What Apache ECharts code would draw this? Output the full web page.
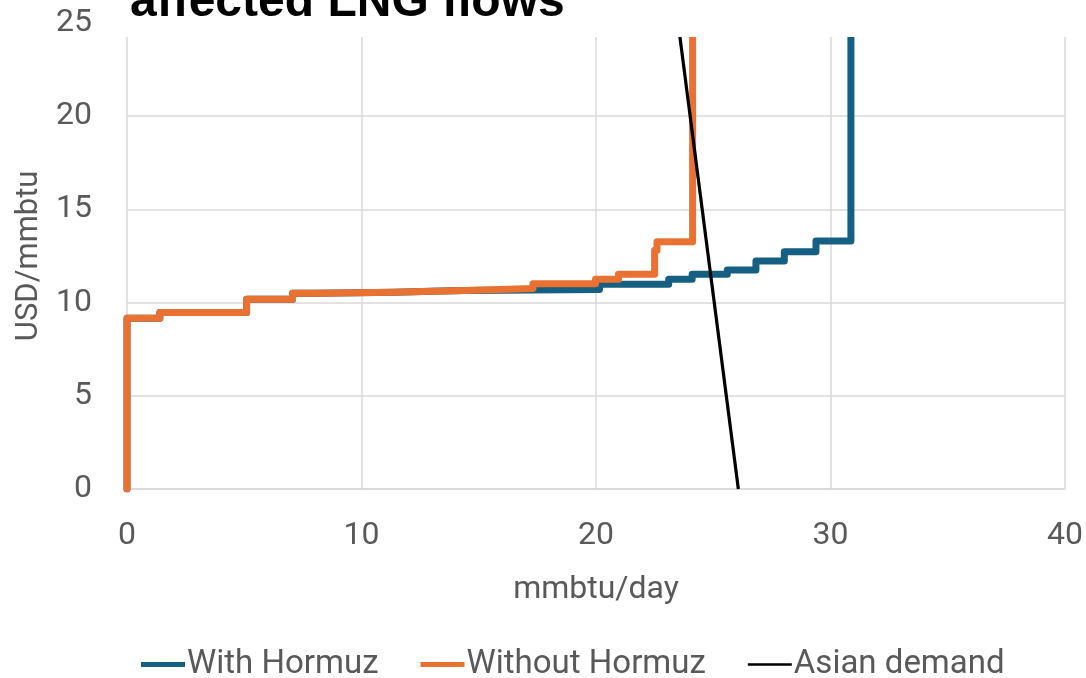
<!DOCTYPE html>
<html><head><meta charset="utf-8">
<script src="https://cdn.jsdelivr.net/npm/echarts@6/dist/echarts.min.js"></script>
<style>html,body{margin:0;padding:0;background:#fff}#c{width:1086px;height:678px}</style>
</head><body><div id="c"></div>
<script>
const titleText = 'affected LNG flows';
const seriesNames = ['With Hormuz', 'Without Hormuz', 'Asian demand'];
const xAxisName = 'mmbtu/day';
const yAxisName = 'USD/mmbtu';
const withX = [0, 0, 1.4, 5.1, 7.06, 8.08, 11.4, 12.98, 14.4, 20.15, 23.1, 24.1, 25.6, 26.82, 28.03, 29.38, 30.87];
const withY = [0, 9.15, 9.47, 10.18, 10.5, 10.55, 10.6, 10.65, 10.7, 10.98, 11.25, 11.51, 11.74, 12.22, 12.72, 13.3, 25];
const withoutX = [0, 0, 1.4, 5.1, 7.06, 8.08, 11.4, 12.98, 14.4, 17.31, 19.98, 20.96, 22.5, 22.6, 24.12];
const withoutY = [0, 9.15, 9.47, 10.18, 10.5, 10.55, 10.6, 10.65, 10.75, 11.0, 11.24, 11.51, 12.8, 13.26, 25];
const demandX = [26.07, 23.5];
const demandY = [0, 25];
const xTicks = [0, 10, 20, 30, 40];
const yTicks = [0, 5, 10, 15, 20, 25];

const pairs = (xs, ys) => xs.map((x, i) => [x, ys[i]]);
const FONT = 'Roboto';
const TXT = '#595959';
const GRID = '#D9D9D9';
const BLUE = '#156082', ORANGE = '#E97132', BLACK = '#000000';

const chart = echarts.init(document.getElementById('c'), null, {renderer: 'canvas'});
chart.setOption({
  animation: false,
  backgroundColor: '#ffffff',
  textStyle: {fontFamily: FONT},
  grid: {left: 127, right: 20, top: 22.75, bottom: 189, containLabel: false},
  xAxis: {
    type: 'value', min: xTicks[0], max: xTicks[xTicks.length - 1], interval: xTicks[1] - xTicks[0],
    name: xAxisName, nameLocation: 'middle', nameGap: 85,
    nameTextStyle: {color: TXT, fontSize: 32, fontFamily: FONT},
    axisLine: {show: true, lineStyle: {color: GRID, width: 1.5}},
    axisTick: {show: false},
    axisLabel: {color: TXT, fontSize: 32, margin: 31, fontFamily: FONT},
    splitLine: {show: true, lineStyle: {color: GRID, width: 1.5}}
  },
  yAxis: {
    type: 'value', min: yTicks[0], max: yTicks[yTicks.length - 1], interval: yTicks[1] - yTicks[0],
    name: yAxisName, nameLocation: 'middle', nameGap: 82,
    nameTextStyle: {color: TXT, fontSize: 31, fontFamily: FONT},
    axisLine: {show: false},
    axisTick: {show: false},
    axisLabel: {color: TXT, fontSize: 32, margin: 35, fontFamily: FONT},
    splitLine: {show: true, lineStyle: {color: GRID, width: 1.5}}
  },
  legend: {
    data: [
      {name: seriesNames[0], icon: 'path://M0,0 L44,0 L44,5 L0,5 Z', itemStyle: {color: BLUE}},
      {name: seriesNames[1], icon: 'path://M0,0 L44,0 L44,5 L0,5 Z', itemStyle: {color: ORANGE}},
      {name: seriesNames[2], icon: 'path://M0,0 L44,0 L44,2.6 L0,2.6 Z', itemStyle: {color: BLACK}}
    ],
    left: 136, top: 643, itemGap: 42, itemWidth: 44, itemHeight: 5, symbolKeepAspect: true,
    textStyle: {color: TXT, fontSize: 33, fontFamily: FONT, padding: [0, 0, 0, -3]}
  },
  graphic: [
    {type: 'rect', left: 100, top: 0, z: 100, shape: {width: 986, height: 37}, style: {fill: '#ffffff'}},
    {type: 'text', x: 130, y: 3, z: 101, style: {text: titleText, font: 'bold 48px "Liberation Sans", Arial, sans-serif', fill: '#000000', verticalAlign: 'middle'}}
  ],
  series: [
    {name: seriesNames[0], type: 'line', step: 'end', symbol: 'none', data: pairs(withX, withY),
     itemStyle: {color: BLUE}, lineStyle: {width: 7, color: BLUE, cap: 'round', join: 'round'}, z: 2},
    {name: seriesNames[1], type: 'line', step: 'end', symbol: 'none', data: pairs(withoutX, withoutY),
     itemStyle: {color: ORANGE}, lineStyle: {width: 7, color: ORANGE, cap: 'round', join: 'round'}, z: 3},
    {name: seriesNames[2], type: 'line', symbol: 'none', data: pairs(demandX, demandY),
     itemStyle: {color: BLACK}, lineStyle: {width: 3.2, color: BLACK}, z: 4}
  ]
});
</script></body></html>
